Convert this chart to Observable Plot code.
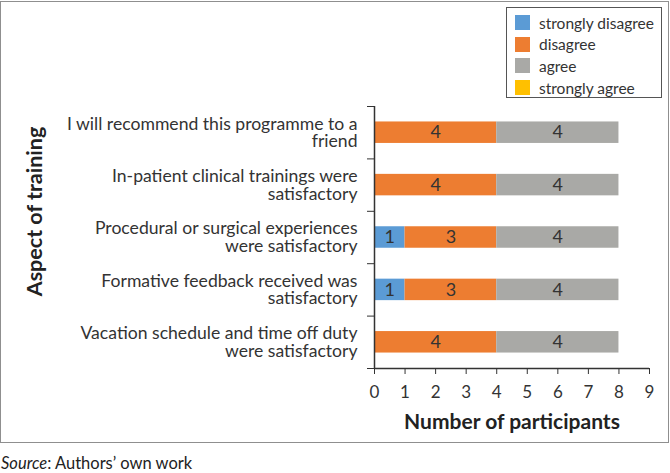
<!DOCTYPE html>
<html>
<head>
<meta charset="utf-8">
<script src="https://cdn.jsdelivr.net/npm/d3@7"></script>
<script src="https://cdn.jsdelivr.net/npm/@observablehq/plot@0.6"></script>
<style>
  body { margin: 0; background: #fff; font-family: Lato, "Open Sans", sans-serif; color: #333; }
  #wrap { position: relative; width: 669px; height: 443px; }
  #frame { position: absolute; left: 0; top: 1px; width: 669px; height: 442px; box-sizing: border-box; border: 1px solid #8f8f8f; pointer-events: none; }
  #chart svg { position: absolute; left: 0; top: 0; overflow: visible; }
  #legend { position: absolute; left: 506px; top: 7px; width: 156px; height: 91px; box-sizing: border-box; border: 1px solid #555; background: #fff; padding: 4px 0 0 8px; }
  .item { display: flex; align-items: center; height: 21.6px; font-size: 15.5px; color: #333; }
  .sw { width: 15px; height: 15px; margin-right: 9px; flex: none; }
  #caption { font-size: 16.5px; color: #222; margin-top: 10px; padding-left: 1px; }
</style>
</head>
<body>
<div id="wrap">
  <div id="chart"></div>
  <div id="legend"></div>
  <div id="frame"></div>
</div>
<div id="caption"><i>Source</i>: Authors’ own work</div>
<script>
// ---- data ----
const categories = [
  "I will recommend this programme to a\nfriend",
  "In-patient clinical trainings were\nsatisfactory",
  "Procedural or surgical experiences\nwere satisfactory",
  "Formative feedback received was\nsatisfactory",
  "Vacation schedule and time off duty\nwere satisfactory"
];
const responses = ["strongly disagree", "disagree", "agree", "strongly agree"];
const colors = ["#5B9BD5", "#ED7D31", "#A9A9A6", "#FFC000"];
const stronglyDisagree = [0, 0, 1, 1, 0];
const disagree = [4, 4, 3, 3, 4];
const agree = [4, 4, 4, 4, 4];
const stronglyAgree = [0, 0, 0, 0, 0];
const xTicks = [0, 1, 2, 3, 4, 5, 6, 7, 8, 9];

// ---- build table ----
const series = [stronglyDisagree, disagree, agree, stronglyAgree];
const rows = [];
categories.forEach((cat, i) => {
  let acc = 0;
  series.forEach((vals, k) => {
    const v = vals[i];
    rows.push({cat, i, response: responses[k], value: v, x1: acc, x2: acc + v});
    acc += v;
  });
});
const n = categories.length;
const bar = 0.41;
const catRows = categories.map((c, i) => ({cat: c, i}));

const chart = Plot.plot({
  width: 669,
  height: 443,
  marginLeft: 374,
  marginRight: 20,
  marginTop: 106,
  marginBottom: 75,
  style: {fontFamily: "Lato, 'Open Sans', sans-serif", fontSize: "16px", color: "#333", background: "transparent"},
  x: {domain: [0, 9]},
  y: {domain: [0, n], range: [106, 368]},
  color: {domain: responses, range: colors},
  marks: [
    Plot.rect(rows.filter(d => d.value > 0), {
      x1: "x1", x2: "x2",
      y1: d => d.i + (1 - bar) / 2,
      y2: d => d.i + (1 + bar) / 2,
      fill: "response"
    }),
    Plot.text(rows.filter(d => d.value > 0), {
      x: d => (d.x1 + d.x2) / 2,
      y: d => d.i + 0.5,
      text: d => String(d.value),
      fontSize: 18,
      fill: "#333"
    }),
    Plot.text(catRows, {
      x: 0, y: d => d.i + 0.5, text: "cat",
      textAnchor: "end", dx: -17, fontSize: 17.6, lineHeight: 1.0, fill: "#333"
    }),
    Plot.axisY({ticks: d3.range(n + 1), tickFormat: () => "", tickSize: 7, stroke: "#333", strokeOpacity: 1}),
    Plot.axisX({ticks: xTicks, tickFormat: d => String(d), tickSize: 6, tickPadding: 11, label: null, fontSize: 17, fill: "#333", stroke: "#333", strokeOpacity: 1}),
    Plot.ruleX([0], {stroke: "#333", strokeWidth: 1.5}),
    Plot.ruleY([n], {stroke: "#333", strokeWidth: 1.5}),
    Plot.text(["Number of participants"], {
      frameAnchor: "bottom", lineAnchor: "middle", dy: 54, fontSize: 21, fontWeight: "bold", fill: "#222"
    }),
    Plot.text(["Aspect of training"], {
      frameAnchor: "left", textAnchor: "middle", lineAnchor: "middle", dx: -339, dy: -26, rotate: -90, fontSize: 21.5, fontWeight: "bold", fill: "#222"
    })
  ]
});
document.getElementById("chart").appendChild(chart);

// ---- legend ----
const legend = document.getElementById("legend");
responses.forEach((r, k) => {
  const item = document.createElement("div");
  item.className = "item";
  const sw = document.createElement("span");
  sw.className = "sw";
  sw.style.background = colors[k];
  const t = document.createElement("span");
  t.textContent = r;
  item.appendChild(sw);
  item.appendChild(t);
  legend.appendChild(item);
});
</script>
</body>
</html>
